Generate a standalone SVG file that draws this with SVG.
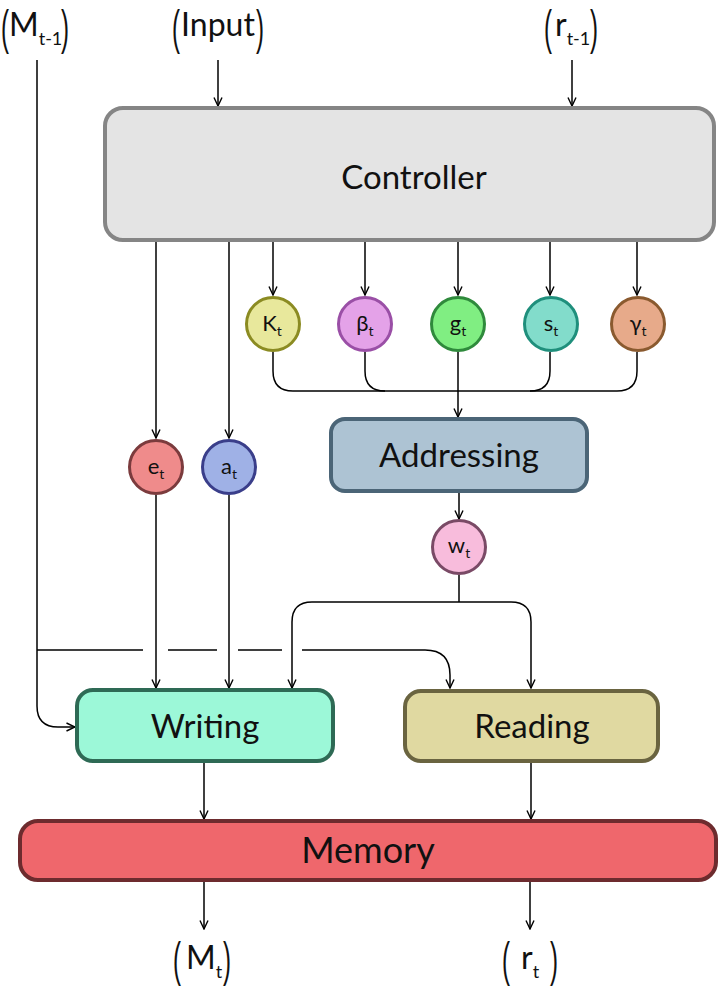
<svg xmlns="http://www.w3.org/2000/svg" width="720" height="992" viewBox="0 0 720 992">
<defs>
<marker id="arr" viewBox="0 0 10 10" refX="9.5" refY="5" markerWidth="10" markerHeight="10" markerUnits="userSpaceOnUse" orient="auto">
<path d="M1,1 L9.5,5 L1,9" fill="none" stroke="#000" stroke-width="1.4"/>
</marker>
</defs>
<style>
.ln{fill:none;stroke:#000;stroke-width:1.5}
.box{stroke-width:4}
.bt{font-family:Lato,"Open Sans","Liberation Sans",sans-serif;font-size:33px;fill:#111;text-anchor:middle}
.ct{font-family:Lato,"Liberation Sans",sans-serif;font-size:22px;fill:#111;text-anchor:middle}
.ct tspan{font-size:14px}
.lab{font-family:Lato,"Liberation Sans",sans-serif;font-size:32px;fill:#111}
.sub{font-size:18px}
.par{font-family:"Liberation Sans",sans-serif;font-size:48px;fill:#111}
circle{stroke-width:3}
</style>
<rect width="720" height="992" fill="#fff"/>

<g id="connectors">
<path class="ln" d="M218,60 V106" marker-end="url(#arr)"/>
<path class="ln" d="M572,60 V106" marker-end="url(#arr)"/>
<path class="ln" d="M37,60 V706 Q37,727 58,727 H75" marker-end="url(#arr)"/>
<path class="ln" d="M37,650 H143 M168,650 H217 M238,650 H282 M302,650 H425 Q450,650 450,675 V688" marker-end="url(#arr)"/>
<path class="ln" d="M156,242 V438" marker-end="url(#arr)"/>
<path class="ln" d="M229,242 V438" marker-end="url(#arr)"/>
<path class="ln" d="M273,242 V295" marker-end="url(#arr)"/>
<path class="ln" d="M365,242 V295" marker-end="url(#arr)"/>
<path class="ln" d="M458,242 V295" marker-end="url(#arr)"/>
<path class="ln" d="M550,242 V295" marker-end="url(#arr)"/>
<path class="ln" d="M637,242 V295" marker-end="url(#arr)"/>
<path class="ln" d="M273,352 V371 Q273,391 293,391 H617 Q637,391 637,371 V352"/>
<path class="ln" d="M365,352 V371 Q365,391 385,391"/>
<path class="ln" d="M550,352 V371 Q550,391 530,391"/>
<path class="ln" d="M458,352 V417" marker-end="url(#arr)"/>
<path class="ln" d="M156,495 V688" marker-end="url(#arr)"/>
<path class="ln" d="M229,495 V688" marker-end="url(#arr)"/>
<path class="ln" d="M459,493 V519" marker-end="url(#arr)"/>
<path class="ln" d="M459,575 V602"/>
<path class="ln" d="M459,602 H312 Q292,602 292,622 V688" marker-end="url(#arr)"/>
<path class="ln" d="M459,602 H511 Q531,602 531,622 V688" marker-end="url(#arr)"/>
<path class="ln" d="M204,763 V819" marker-end="url(#arr)"/>
<path class="ln" d="M531,763 V819" marker-end="url(#arr)"/>
<path class="ln" d="M204,882 V929" marker-end="url(#arr)"/>
<path class="ln" d="M530,882 V929" marker-end="url(#arr)"/>
</g>

<g id="in-M">
<text class="par" transform="translate(1,44) scale(0.5,1)">(</text>
<text class="lab" x="9" y="36">M<tspan class="sub" dy="9">t-1</tspan></text>
<text class="par" transform="translate(61,44) scale(0.5,1)">)</text>
</g>
<g id="in-input">
<text class="par" transform="translate(172,44) scale(0.5,1)">(</text>
<text class="lab" x="218" y="36" text-anchor="middle">Input</text>
<text class="par" transform="translate(256,44) scale(0.5,1)">)</text>
</g>
<g id="in-r">
<text class="par" transform="translate(544,44) scale(0.5,1)">(</text>
<text class="lab" x="555" y="36">r<tspan class="sub" dy="9">t-1</tspan></text>
<text class="par" transform="translate(590,44) scale(0.5,1)">)</text>
</g>

<g id="controller">
<rect class="box" x="105" y="108" width="609" height="132" rx="18" fill="#e4e4e4" stroke="#858585"/>
<text class="bt" x="414" y="189">Controller</text>
</g>

<g id="k"><circle cx="273" cy="324" r="26.5" fill="#e8e89c" stroke="#8b8b22"/><text class="ct" x="272" y="331">K<tspan dy="5">t</tspan></text></g>
<g id="beta"><circle cx="365" cy="324" r="26.5" fill="#e4a2e8" stroke="#9a4fa6"/><text class="ct" x="365" y="331">β<tspan dy="5">t</tspan></text></g>
<g id="g"><circle cx="458" cy="324" r="26.5" fill="#80ee82" stroke="#2f8a3c"/><text class="ct" x="458" y="331">g<tspan dy="5">t</tspan></text></g>
<g id="s"><circle cx="551" cy="324" r="26.5" fill="#82dccb" stroke="#1f8f7c"/><text class="ct" x="551" y="331">s<tspan dy="5">t</tspan></text></g>
<g id="gamma"><circle cx="638" cy="324" r="26.5" fill="#e7aa8a" stroke="#8a5a2f"/><text class="ct" x="638" y="331">γ<tspan dy="5">t</tspan></text></g>

<g id="e"><circle cx="156" cy="467" r="26.5" fill="#ef8b8b" stroke="#7b3b3d"/><text class="ct" x="156" y="474">e<tspan dy="5">t</tspan></text></g>
<g id="a"><circle cx="229" cy="467" r="26.5" fill="#9fb1e6" stroke="#3a3e8a"/><text class="ct" x="229" y="474">a<tspan dy="5">t</tspan></text></g>

<g id="addressing">
<rect class="box" x="331" y="419" width="256" height="72" rx="14" fill="#adc3d3" stroke="#4b6577"/>
<text class="bt" x="459" y="467">Addressing</text>
</g>

<g id="w"><circle cx="459" cy="547" r="26.5" fill="#f8bcdc" stroke="#7a4a66"/><text class="ct" x="459" y="553">w<tspan dy="5">t</tspan></text></g>

<g id="writing">
<rect class="box" x="77" y="690" width="256" height="71" rx="16" fill="#9cf8d8" stroke="#2e6a55"/>
<text class="bt" x="205" y="738">Writing</text>
</g>
<g id="reading">
<rect class="box" x="405" y="691" width="253" height="70" rx="16" fill="#e0d9a1" stroke="#6a6440"/>
<text class="bt" x="532" y="738">Reading</text>
</g>

<g id="memory">
<rect class="box" x="20" y="821" width="696" height="59" rx="18" fill="#ef676c" stroke="#6d2b2e"/>
<text class="bt" x="368" y="863" style="font-size:36px">Memory</text>
</g>

<g id="out-M">
<text class="par" transform="translate(173,976) scale(0.5,1)">(</text>
<text class="lab" x="186" y="969">M<tspan class="sub" dy="9">t</tspan></text>
<text class="par" transform="translate(223,976) scale(0.5,1)">)</text>
</g>
<g id="out-r">
<text class="par" transform="translate(502,976) scale(0.5,1)">(</text>
<text class="lab" x="521" y="969">r<tspan class="sub" dy="9">t</tspan></text>
<text class="par" transform="translate(550,976) scale(0.5,1)">)</text>
</g>
</svg>
